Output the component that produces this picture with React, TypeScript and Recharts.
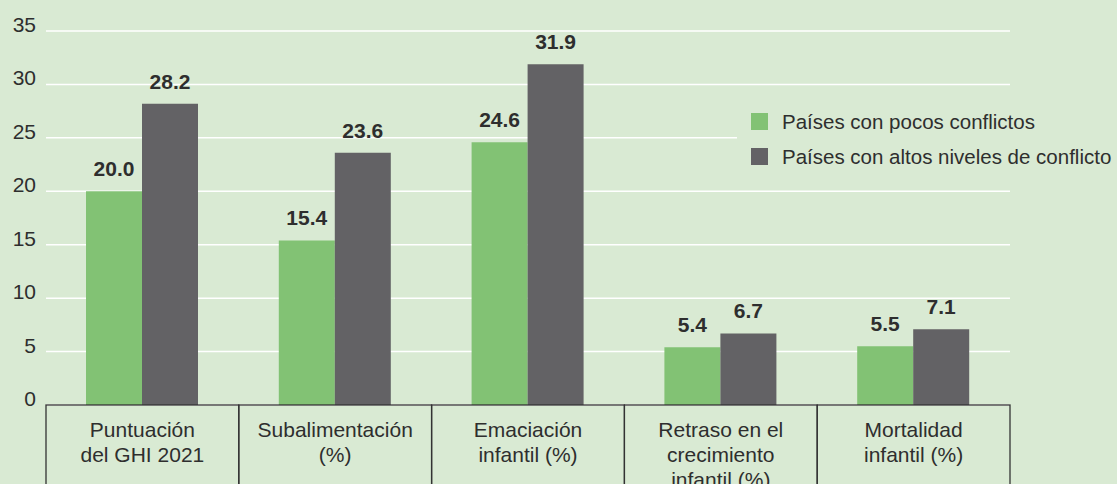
import { BarChart, Bar, XAxis, YAxis, CartesianGrid, Legend, LabelList } from "recharts";

const categories = [
  "Puntuación\ndel GHI 2021",
  "Subalimentación\n(%)",
  "Emaciación\ninfantil (%)",
  "Retraso en el\ncrecimiento\ninfantil (%)",
  "Mortalidad\ninfantil (%)",
];
const lowConflict = [20.0, 15.4, 24.6, 5.4, 5.5];
const highConflict = [28.2, 23.6, 31.9, 6.7, 7.1];
const yTicks = [0, 5, 10, 15, 20, 25, 30, 35];

const seriesNames = ["Países con pocos conflictos", "Países con altos niveles de conflicto"];

const BG = "#d9ead3";
const GREEN = "#82c274";
const GRAY = "#636265";
const TEXT = "#2e2e2e";
const FONT = "'Liberation Sans', Arial, sans-serif";

const W = 1117;
const H = 484;
const margin = { top: 31, right: 107, bottom: 0, left: 0 };
const Y_AXIS_W = 46;
const X_AXIS_H = 79;
const bandWidth = (W - margin.right - Y_AXIS_W) / categories.length;

const data = categories.map((name, i) => ({
  name,
  low: lowConflict[i],
  high: highConflict[i],
}));

function CategoryTick({ x, y, payload }: any) {
  const lines = String(payload.value).split("\n");
  return (
    <g>
      <rect
        x={x - bandWidth / 2}
        y={y}
        width={bandWidth}
        height={120}
        fill="none"
        stroke="#333"
        strokeWidth={1.3}
      />
      {lines.map((line, i) => (
        <text
          key={i}
          x={x}
          y={y + 32 + i * 25}
          textAnchor="middle"
          fontFamily={FONT}
          fontSize={21}
          fill={TEXT}
        >
          {line}
        </text>
      ))}
    </g>
  );
}

function ValueTick({ x, y, payload }: any) {
  return (
    <text x={x} y={y + 1} textAnchor="end" fontFamily={FONT} fontSize={21} fill={TEXT}>
      {payload.value}
    </text>
  );
}

function LegendBox({ payload }: any) {
  // keep the series order of the reference (green first)
  const items = [...(payload || [])].sort(
    (a: any, b: any) => seriesNames.indexOf(a.value) - seriesNames.indexOf(b.value)
  );
  return (
    <div
      style={{
        background: BG,
        padding: "6px 0 6px 14px",
        fontFamily: FONT,
        fontSize: 20.5,
        color: TEXT,
        whiteSpace: "nowrap",
      }}
    >
      {items.map((entry: any) => (
        <div key={entry.value} style={{ display: "flex", alignItems: "center", height: 35 }}>
          <span
            style={{
              display: "inline-block",
              width: 17,
              height: 17,
              background: entry.color,
              marginRight: 14,
            }}
          />
          {entry.value}
        </div>
      ))}
    </div>
  );
}

export default function App() {
  return (
    <div style={{ position: "fixed", left: 0, top: 0, width: W, height: H, background: BG }}>
      <BarChart width={W} height={H} data={data} margin={margin} barSize={56} barGap={0}>
        <CartesianGrid vertical={false} stroke="#ffffff" strokeWidth={1.5} />
        <XAxis
          dataKey="name"
          height={X_AXIS_H}
          axisLine={false}
          tickLine={false}
          tickSize={0}
          tickMargin={0}
          interval={0}
          tick={<CategoryTick />}
        />
        <YAxis
          width={Y_AXIS_W}
          domain={[0, 35]}
          ticks={yTicks}
          axisLine={false}
          tickLine={false}
          tickSize={0}
          tickMargin={10}
          tick={<ValueTick />}
        />
        <Legend
          layout="vertical"
          align="center"
          verticalAlign="middle"
          content={<LegendBox />}
          wrapperStyle={{ left: 737, top: 98, width: "auto", height: "auto" }}
        />
        <Bar dataKey="low" name={seriesNames[0]} fill={GREEN} isAnimationActive={false}>
          <LabelList
            dataKey="low"
            position="top"
            offset={15}
            formatter={(v: any) => Number(v).toFixed(1)}
            style={{ fontFamily: FONT, fontSize: 21, fontWeight: 700, fill: TEXT }}
          />
        </Bar>
        <Bar dataKey="high" name={seriesNames[1]} fill={GRAY} isAnimationActive={false}>
          <LabelList
            dataKey="high"
            position="top"
            offset={15}
            formatter={(v: any) => Number(v).toFixed(1)}
            style={{ fontFamily: FONT, fontSize: 21, fontWeight: 700, fill: TEXT }}
          />
        </Bar>
      </BarChart>
    </div>
  );
}
